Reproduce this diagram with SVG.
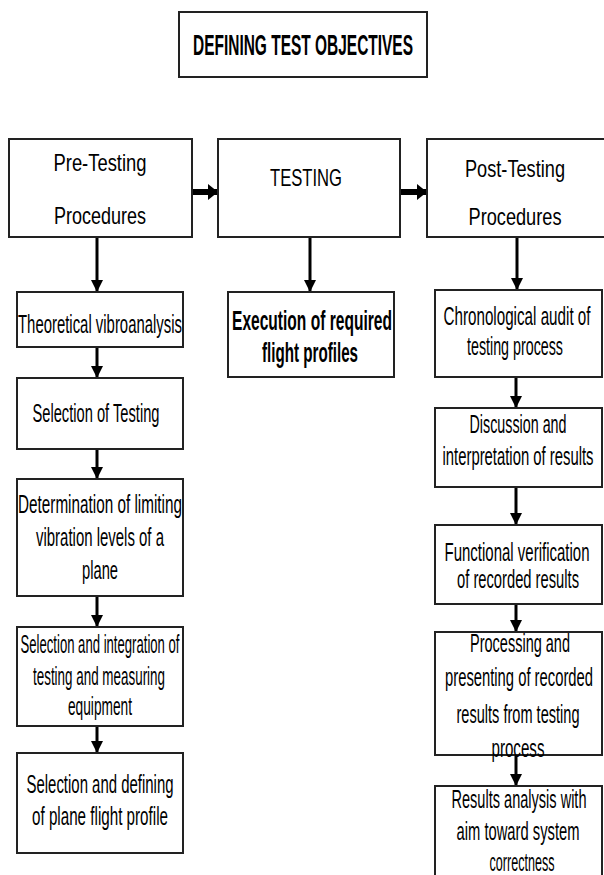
<svg xmlns="http://www.w3.org/2000/svg" width="604" height="875" viewBox="0 0 604 875">
<style>
.bx{fill:#fff;stroke:#222;stroke-width:2}
.t{font-family:"Liberation Sans",Arial,sans-serif;font-size:25px;fill:#000;text-anchor:middle}
.hd{font-size:24px}
.b{font-weight:bold;font-size:27px}
.ti{font-weight:bold;font-size:29px}
.c{stroke:#000;stroke-width:3;fill:none}
.h{stroke:#000;stroke-width:6;fill:none}
</style>
<defs>
<marker id="av" markerUnits="userSpaceOnUse" markerWidth="12" markerHeight="16" refX="12" refY="6" orient="auto" viewBox="0 0 12 12">
<path d="M0,0 L12,6 L0,12 z" fill="#000"/>
</marker>
<marker id="ah" markerUnits="userSpaceOnUse" markerWidth="10" markerHeight="16" refX="10" refY="8" orient="auto" viewBox="0 0 10 16">
<path d="M0,0 L10,8 L0,16 z" fill="#000"/>
</marker>
</defs>
<rect width="604" height="875" fill="#fff"/>
<g id="connectors">
<line class="h" x1="192" y1="192" x2="218" y2="192" marker-end="url(#ah)"/>
<line class="h" x1="400" y1="192" x2="427" y2="192" marker-end="url(#ah)"/>
<line class="c" x1="97" y1="238" x2="97" y2="292" marker-end="url(#av)"/>
<line class="c" x1="310" y1="238" x2="310" y2="292" marker-end="url(#av)"/>
<line class="c" x1="517" y1="238" x2="517" y2="290" marker-end="url(#av)"/>
<line class="c" x1="97" y1="347" x2="97" y2="378" marker-end="url(#av)"/>
<line class="c" x1="97" y1="449" x2="97" y2="479" marker-end="url(#av)"/>
<line class="c" x1="97" y1="596" x2="97" y2="627" marker-end="url(#av)"/>
<line class="c" x1="97" y1="726" x2="97" y2="753" marker-end="url(#av)"/>
<line class="c" x1="516" y1="377" x2="516" y2="408" marker-end="url(#av)"/>
<line class="c" x1="516" y1="487" x2="516" y2="525" marker-end="url(#av)"/>
<line class="c" x1="516" y1="604" x2="516" y2="632" marker-end="url(#av)"/>
<line class="c" x1="516" y1="755" x2="516" y2="786" marker-end="url(#av)"/>
</g>
<g id="objectives">
<rect class="bx" x="179" y="12" width="248" height="65"/>
<text class="t ti" x="303" y="55" textLength="220" lengthAdjust="spacingAndGlyphs">DEFINING TEST OBJECTIVES</text>
</g>
<g id="pre">
<rect class="bx" x="9" y="139" width="183" height="98"/>
<text class="t hd" x="100" y="171" textLength="93" lengthAdjust="spacingAndGlyphs">Pre-Testing</text>
<text class="t hd" x="100" y="224" textLength="92" lengthAdjust="spacingAndGlyphs">Procedures</text>
</g>
<g id="testing">
<rect class="bx" x="218" y="139" width="182" height="98"/>
<text class="t hd" x="306" y="186" textLength="72" lengthAdjust="spacingAndGlyphs">TESTING</text>
</g>
<g id="post">
<rect class="bx" x="427" y="139" width="180" height="98"/>
<text class="t hd" x="515" y="177" textLength="100" lengthAdjust="spacingAndGlyphs">Post-Testing</text>
<text class="t hd" x="515" y="225" textLength="93" lengthAdjust="spacingAndGlyphs">Procedures</text>
</g>
<g id="theoretical">
<rect class="bx" x="17" y="292" width="166" height="55"/>
<text class="t" x="100" y="333" textLength="164" lengthAdjust="spacingAndGlyphs">Theoretical vibroanalysis</text>
</g>
<g id="selection-testing">
<rect class="bx" x="17" y="378" width="166" height="71"/>
<text class="t" x="96" y="422" textLength="127" lengthAdjust="spacingAndGlyphs">Selection of Testing</text>
</g>
<g id="determination">
<rect class="bx" x="17" y="479" width="166" height="117"/>
<text class="t" x="100" y="513" textLength="164" lengthAdjust="spacingAndGlyphs">Determination of limiting</text>
<text class="t" x="100" y="546" textLength="128" lengthAdjust="spacingAndGlyphs">vibration levels of a</text>
<text class="t" x="100" y="579" textLength="36" lengthAdjust="spacingAndGlyphs">plane</text>
</g>
<g id="integration">
<rect class="bx" x="17" y="627" width="166" height="99"/>
<text class="t" x="100" y="653" textLength="159" lengthAdjust="spacingAndGlyphs">Selection and integration of</text>
<text class="t" x="99" y="685" textLength="132" lengthAdjust="spacingAndGlyphs">testing and measuring</text>
<text class="t" x="100" y="715" textLength="64" lengthAdjust="spacingAndGlyphs">equipment</text>
</g>
<g id="flight-profile">
<rect class="bx" x="17" y="753" width="166" height="100"/>
<text class="t" x="100" y="793" textLength="147" lengthAdjust="spacingAndGlyphs">Selection and defining</text>
<text class="t" x="100" y="825" textLength="136" lengthAdjust="spacingAndGlyphs">of plane flight profile</text>
</g>
<g id="execution">
<rect class="bx" x="228" y="292" width="166" height="85"/>
<text class="t b" x="312" y="330" textLength="160" lengthAdjust="spacingAndGlyphs">Execution of required</text>
<text class="t b" x="310" y="362" textLength="96" lengthAdjust="spacingAndGlyphs">flight profiles</text>
</g>
<g id="audit">
<rect class="bx" x="435" y="290" width="167" height="87"/>
<text class="t" x="517" y="325" textLength="147" lengthAdjust="spacingAndGlyphs">Chronological audit of</text>
<text class="t" x="515" y="355" textLength="96" lengthAdjust="spacingAndGlyphs">testing process</text>
</g>
<g id="discussion">
<rect class="bx" x="435" y="408" width="167" height="79"/>
<text class="t" x="518" y="433" textLength="97" lengthAdjust="spacingAndGlyphs">Discussion and</text>
<text class="t" x="518" y="465" textLength="151" lengthAdjust="spacingAndGlyphs">interpretation of results</text>
</g>
<g id="verification">
<rect class="bx" x="435" y="525" width="167" height="79"/>
<text class="t" x="517" y="561" textLength="145" lengthAdjust="spacingAndGlyphs">Functional verification</text>
<text class="t" x="518" y="588" textLength="122" lengthAdjust="spacingAndGlyphs">of recorded results</text>
</g>
<g id="processing">
<rect class="bx" x="435" y="632" width="167" height="123"/>
<text class="t" x="520" y="652" textLength="100" lengthAdjust="spacingAndGlyphs">Processing and</text>
<text class="t" x="519" y="686" textLength="148" lengthAdjust="spacingAndGlyphs">presenting of recorded</text>
<text class="t" x="518" y="723" textLength="123" lengthAdjust="spacingAndGlyphs">results from testing</text>
<text class="t" x="518" y="757" textLength="53" lengthAdjust="spacingAndGlyphs">process</text>
</g>
<g id="results-analysis">
<rect class="bx" x="435" y="786" width="167" height="100"/>
<text class="t" x="519" y="808" textLength="135" lengthAdjust="spacingAndGlyphs">Results analysis with</text>
<text class="t" x="518" y="840" textLength="123" lengthAdjust="spacingAndGlyphs">aim toward system</text>
<text class="t" x="522" y="871" textLength="65" lengthAdjust="spacingAndGlyphs">correctness</text>
</g>
</svg>
